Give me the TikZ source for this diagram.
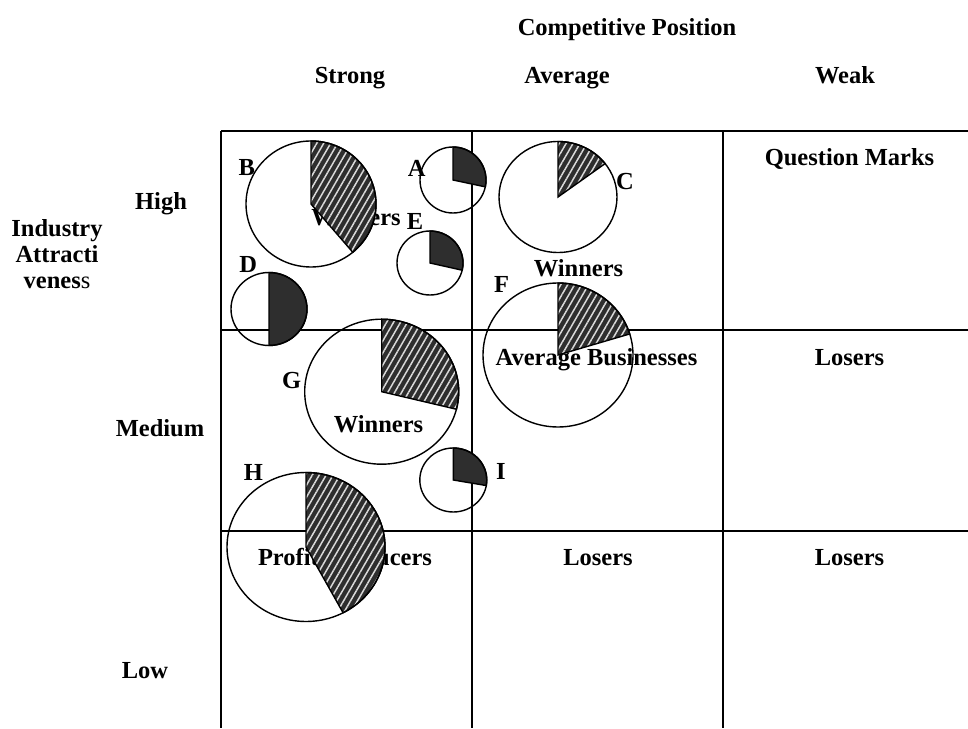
\documentclass[tikz,border=0pt]{standalone}
\usepackage{fontspec}
\setmainfont{Liberation Serif}
\usetikzlibrary{patterns.meta}
\newcommand{\mypie}[6]{%
  \fill[#6] (#1,#2) -- +(0,#4) arc[start angle=90,end angle=#5,x radius=#3,y radius=#4] -- cycle;
  \draw[rim] (#1,#2) ellipse[x radius=#3,y radius=#4];
  \draw[rim] (#1,#2) -- +(0,#4) arc[start angle=90,end angle=#5,x radius=#3,y radius=#4] -- cycle;
}
\begin{document}
\begin{tikzpicture}[x=1pt,y=1pt,
  lbl/.style={font=\fontsize{24.5}{26}\selectfont\bfseries, inner sep=0pt, text height=16.2pt, text depth=0pt},
  gridline/.style={line width=2pt},
  rim/.style={line width=1.4pt},
  hatchpie/.style={fill=black!82, postaction={pattern={Lines[angle=60,distance=6pt,line width=1.5pt]}, pattern color=white!85!black}},
  darkpie/.style={fill=black!82},
]
\useasboundingbox (0,0) rectangle (968,728);
% grid
\coordinate (t0) at (221,597); \coordinate (t1) at (968,597);
\coordinate (m0) at (221,398); \coordinate (m1) at (968,398);
\coordinate (l0) at (221,197); \coordinate (l1) at (968,197);
\coordinate (v0t) at (221,597); \coordinate (v0b) at (221,0);
\coordinate (v1t) at (472,597); \coordinate (v1b) at (472,0);
\coordinate (v2t) at (723,597); \coordinate (v2b) at (723,0);
\draw[gridline] (t0) -- (t1);
\draw[gridline] (m0) -- (m1);
\draw[gridline] (l0) -- (l1);
\draw[gridline] (v0t) -- (v0b);
\draw[gridline] (v1t) -- (v1b);
\draw[gridline] (v2t) -- (v2b);
% headings
\node[lbl] (title) at (627,701) {Competitive Position};
\node[lbl] (strong) at (350,653) {Strong};
\node[lbl] (avg) at (567,653) {Average};
\node[lbl] (weak) at (845,653) {Weak};
\node[lbl] (high) at (161,527) {High};
\node[lbl] (medium) at (160,300) {Medium};
\node[lbl] (low) at (145,58) {Low};
\node[lbl,anchor=base] (ind1) at (57,491) {Industry};
\node[lbl,anchor=base] (ind2) at (57,465) {Attracti};
\node[lbl,anchor=base] (ind3) at (57,439) {venes{\mdseries s}};
% cell texts
\node[lbl] (win1) at (356,511) {Winners};
\node[lbl] (qm) at (849.5,571) {Question Marks};
\node[lbl] (win2) at (578.5,460) {Winners};
\node[lbl] (avgbus) at (596.5,371) {Average Businesses};
\node[lbl] (los1) at (849.5,371) {Losers};
\node[lbl] (win3) at (378.5,304) {Winners};
\node[lbl] (profit) at (345,171) {Profit Producers};
\node[lbl] (los2) at (598,171) {Losers};
\node[lbl] (los3) at (849.5,171) {Losers};
% pies
\mypie{311}{524}{65}{63}{-50}{hatchpie}
\mypie{453}{548}{33}{33}{-12}{darkpie}
\mypie{430}{465}{33}{32}{-13}{darkpie}
\mypie{269}{419}{38}{36.5}{-90}{darkpie}
\mypie{558}{531}{59}{55.5}{37}{hatchpie}
\mypie{558}{373}{75}{72}{17}{hatchpie}
\mypie{381.7}{336.3}{77}{72.5}{-14}{hatchpie}
\mypie{306}{181}{79}{74.5}{-62}{hatchpie}
\mypie{453.3}{248}{33.5}{32}{-10}{darkpie}
% letters
\node[lbl] (lB) at (246.7,561) {B};
\node[lbl] (lA) at (416.7,560) {A};
\node[lbl] (lE) at (415,507) {E};
\node[lbl] (lD) at (248.3,464) {D};
\node[lbl] (lC) at (625,547) {C};
\node[lbl] (lF) at (501.7,444) {F};
\node[lbl] (lG) at (291.7,348) {G};
\node[lbl] (lH) at (253.3,256) {H};
\node[lbl] (lI) at (501,257) {I};
\end{tikzpicture}
\end{document}
